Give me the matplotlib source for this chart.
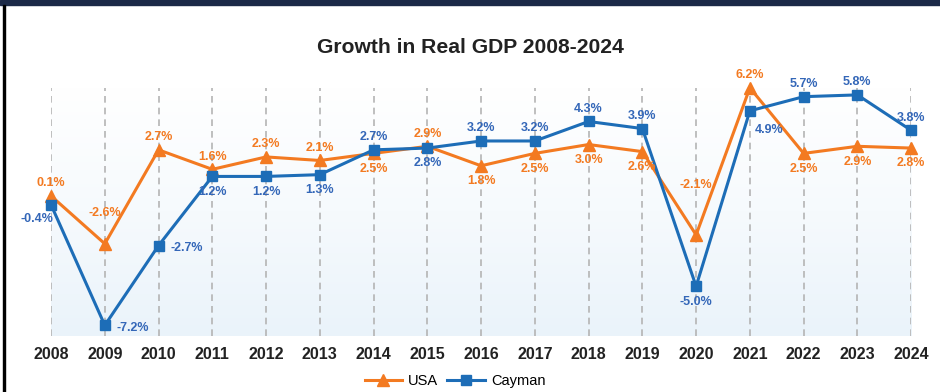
import numpy as np
import matplotlib
matplotlib.use("Agg")
import matplotlib.pyplot as plt
from matplotlib.colors import LinearSegmentedColormap
from matplotlib.patches import Rectangle

plt.rcParams['font.family'] = ['Liberation Sans', 'DejaVu Sans']

years = list(range(2008, 2025))
usa = [0.1, -2.6, 2.7, 1.6, 2.3, 2.1, 2.5, 2.9, 1.8, 2.5, 3.0, 2.6, -2.1, 6.2, 2.5, 2.9, 2.8]
cayman = [-0.4, -7.2, -2.7, 1.2, 1.2, 1.3, 2.7, 2.8, 3.2, 3.2, 4.3, 3.9, -5.0, 4.9, 5.7, 5.8, 3.8]

# where each value label sits relative to its point (dx, dy in points)
usa_off = [(0, 9), (0, 22), (0, 9), (0, 9), (0, 9), (0, 9), (0, -11), (0, 9), (0, -11), (0, -11),
           (0, -11), (0, -11), (0, 36), (0, 9), (0, -11), (0, -11), (0, -11)]
cay_off = [(-10, -10), (20, -2), (20, -2), (0, -11), (0, -11), (0, -11), (0, 9), (0, -11), (0, 9), (0, 9),
           (0, 9), (0, 9), (0, -11), (14, -14), (0, 9), (0, 9), (0, 9)]

orange = '#f37a21'
blue = '#1d6db7'
blue_txt = '#3467b8'

fig = plt.figure(figsize=(9.4, 3.92), dpi=100)
ax = fig.add_axes([0.0543, 0.143, 0.915, 0.633])

# frame bits around the card
fig.patches.append(Rectangle((0, 0.987), 1, 0.013, transform=fig.transFigure, color='#1b2947', zorder=0))
fig.patches.append(Rectangle((0.003, 0), 0.0025, 0.987, transform=fig.transFigure, color='black', zorder=0))

ax.set_xlim(2008, 2024)
ax.set_ylim(-7.8, 6.2)

# soft blue gradient behind the plot
grad = np.linspace(0, 1, 256).reshape(-1, 1)
cmap = LinearSegmentedColormap.from_list('bg', ['#ffffff', '#f6fafd', '#eaf3fa'])
ax.imshow(grad, extent=[2008, 2024, -7.8, 6.2], aspect='auto', cmap=cmap, origin='upper', zorder=0)

for y in years:
    ax.axvline(y, color='#b4b4b4', lw=1.2, ls=(0, (4, 3)), zorder=1)

ax.plot(years, usa, color=orange, lw=2.2, marker='^', ms=8, zorder=3, clip_on=False, label='USA')
ax.plot(years, cayman, color=blue, lw=2.2, marker='s', ms=7, zorder=4, clip_on=False, label='Cayman')

for x, v, (dx, dy) in zip(years, usa, usa_off):
    ax.annotate(f'{v:.1f}%', (x, v), xytext=(dx, dy), textcoords='offset points',
                ha='center', va='center', color=orange, fontsize=9, fontweight='bold', zorder=5)
for x, v, (dx, dy) in zip(years, cayman, cay_off):
    ax.annotate(f'{v:.1f}%', (x, v), xytext=(dx, dy), textcoords='offset points',
                ha='center', va='center', color=blue_txt, fontsize=9, fontweight='bold', zorder=5)

ax.set_xticks(years)
ax.set_xticklabels([str(y) for y in years], fontsize=11.5, fontweight='bold', color='#222222')
ax.tick_params(axis='x', length=0, pad=8)
ax.set_yticks([])
for s in ax.spines.values():
    s.set_visible(False)

fig.text(0.5, 0.88, 'Growth in Real GDP 2008-2024', ha='center', va='center',
         fontsize=15.2, fontweight='bold', color='#222222')

fig.legend(loc='center', bbox_to_anchor=(0.484, 0.028), ncol=2, frameon=False,
           fontsize=10.5, handlelength=2.6, columnspacing=0.6, handletextpad=0.4)

fig.savefig('out.png', dpi=100, facecolor='white')
